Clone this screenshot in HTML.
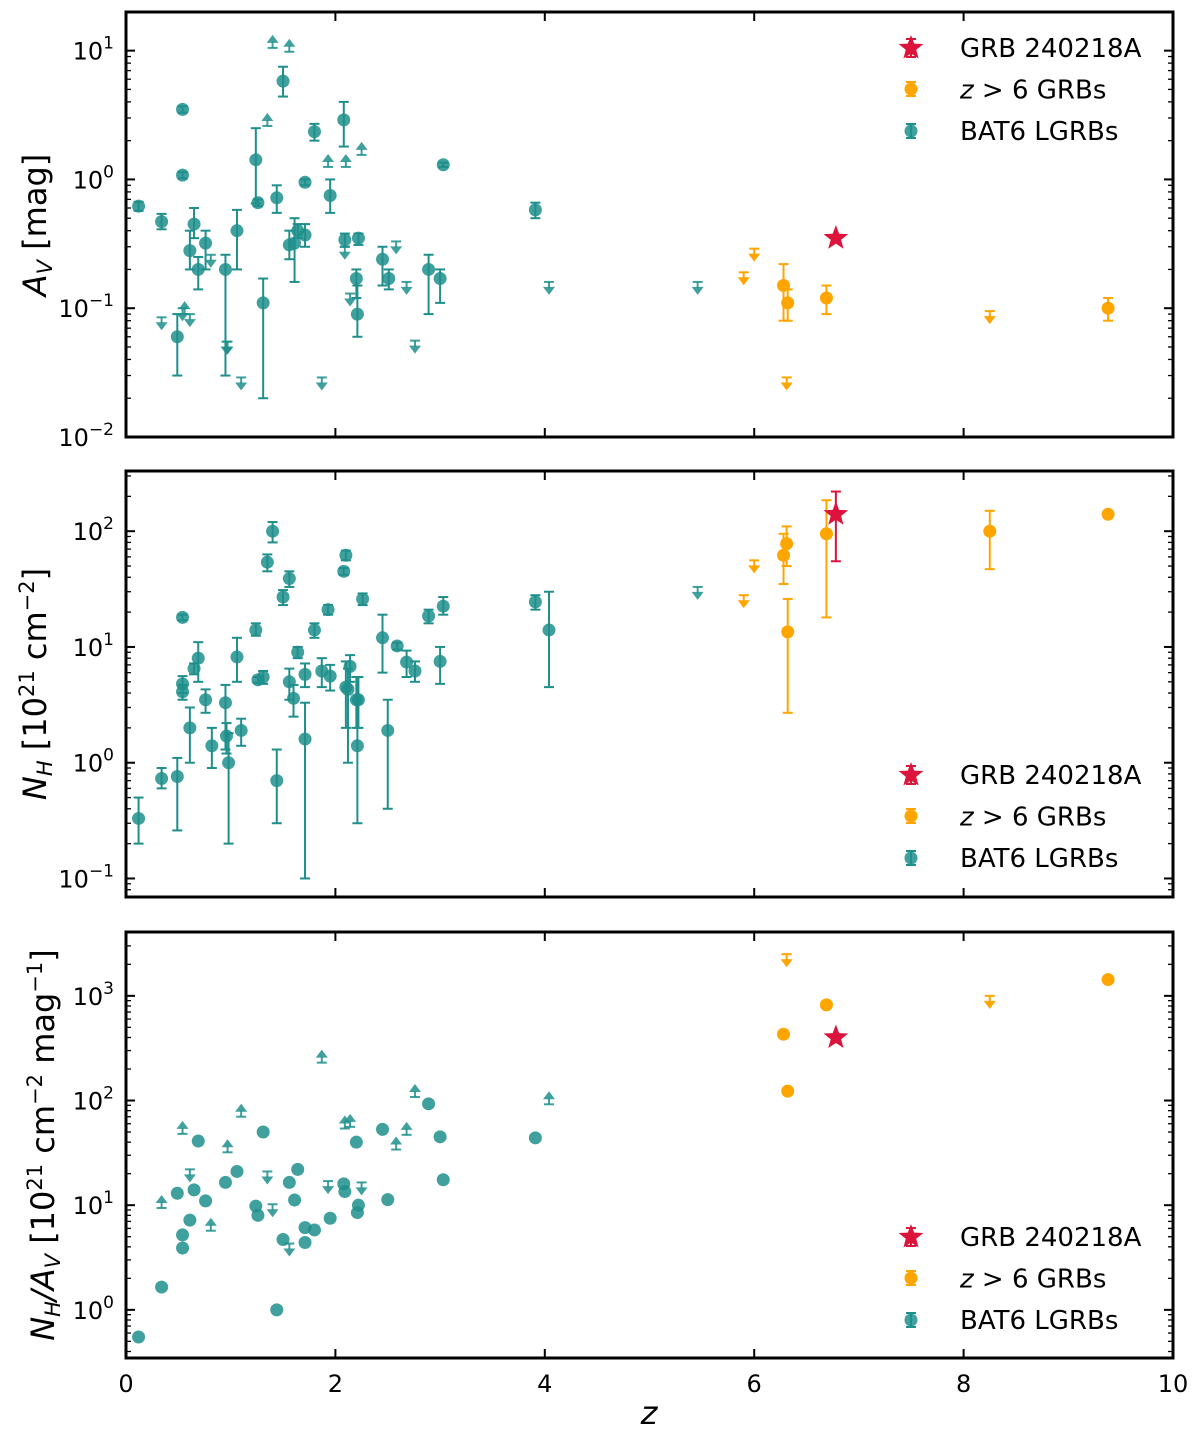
<!DOCTYPE html>
<html><head><meta charset="utf-8"><style>
body{margin:0;background:#fff}
svg{display:block;font-family:"DejaVu Sans","Liberation Sans",sans-serif}
</style></head><body>
<svg id="fig" width="1200" height="1441" viewBox="0 0 1200 1441"></svg>
<script>
// ---------- DATA ----------
// Panel 1: A_V
const av_bat_z=[0.12,0.34,0.49,0.54,0.54,0.61,0.65,0.69,0.76,0.95,1.06,1.24,1.26,1.31,1.44,1.50,1.56,1.61,1.64,1.71,1.71,1.80,1.95,2.08,2.09,2.20,2.21,2.22,2.45,2.51,2.89,3.00,3.03,3.91];
const av_bat_v=[0.62,0.47,0.06,3.5,1.08,0.28,0.45,0.2,0.32,0.2,0.4,1.42,0.66,0.11,0.72,5.8,0.31,0.32,0.4,0.37,0.95,2.35,0.75,2.9,0.34,0.17,0.09,0.35,0.24,0.17,0.2,0.17,1.3,0.58];
const av_bat_lo=[0.57,0.41,0.03,3.3,1.02,0.2,0.35,0.14,0.2,0.03,0.2,0.65,0.62,0.02,0.55,4.4,0.24,0.16,0.35,0.3,0.9,2.0,0.55,1.8,0.3,0.12,0.06,0.31,0.15,0.14,0.09,0.11,1.25,0.5];
const av_bat_hi=[0.67,0.54,0.09,3.7,1.14,0.4,0.6,0.25,0.4,0.26,0.58,2.5,0.7,0.17,0.9,7.5,0.4,0.5,0.45,0.45,1.0,2.7,1.0,4.0,0.38,0.2,0.15,0.38,0.3,0.2,0.26,0.2,1.35,0.66];
const av_bat_lowlim_z=[1.40,1.56,1.35,1.93,2.10,2.25,0.56];
const av_bat_lowlim_v=[10.5,9.8,2.6,1.25,1.25,1.55,0.09];
const av_bat_uplim_z=[0.34,0.54,0.61,0.81,0.97,1.10,1.87,2.09,2.14,2.58,2.68,2.76,4.04,5.46,0.96];
const av_bat_uplim_v=[0.085,0.1,0.09,0.26,0.055,0.029,0.029,0.3,0.13,0.33,0.16,0.056,0.16,0.16,0.055];
const av_hz_z=[6.28,6.32,6.69,9.38];
const av_hz_v=[0.15,0.11,0.12,0.1];
const av_hz_lo=[0.08,0.08,0.09,0.08];
const av_hz_hi=[0.22,0.14,0.15,0.12];
const av_hz_uplim_z=[5.90,6.00,6.31,8.25];
const av_hz_uplim_v=[0.19,0.29,0.029,0.095];
const av_star=[6.78,0.35];

// Panel 2: N_H
const nh_bat_z=[0.12,0.34,0.49,0.54,0.54,0.54,0.61,0.65,0.69,0.76,0.82,0.95,0.96,0.98,1.06,1.10,1.24,1.26,1.31,1.35,1.40,1.44,1.50,1.56,1.56,1.60,1.64,1.71,1.71,1.80,1.87,1.93,1.95,2.08,2.10,2.10,2.12,2.14,2.20,2.21,2.22,2.26,2.45,2.50,2.59,2.68,2.76,2.89,3.00,3.03,3.91,4.04];
const nh_bat_v=[0.33,0.73,0.76,4.8,4.1,18,2.0,6.5,8.0,3.5,1.4,3.3,1.7,1.0,8.2,1.9,14,5.2,5.5,54,100,0.7,27,39,5.0,3.6,9.0,5.8,1.6,14,6.2,21,5.6,45,62,4.5,4.3,6.8,3.5,1.4,3.5,26,12,1.9,10.2,7.4,6.2,18.5,7.5,22.5,24.5,14];
const nh_bat_lo=[0.2,0.6,0.26,4.0,3.5,17,1.0,5.8,5.0,2.7,0.9,1.3,1.2,0.2,5.0,1.4,12.5,4.9,4.8,45,80,0.3,23,33,3.5,2.5,8.0,4.5,0.1,12,4.5,19,4.2,42,56,2.0,1.0,5.0,2.0,0.3,2.0,23,6,0.4,9.5,5.5,5.0,16,4.8,19,21,4.5];
const nh_bat_hi=[0.5,0.9,1.1,5.6,4.7,19,3.0,7.2,11,4.3,2.0,4.7,2.2,1.8,12,2.4,16,5.5,6.2,63,120,1.3,31,45,6.5,4.7,10,7.2,3.3,16,8.0,23,7.0,48,68,7.5,6.5,8.5,5.5,5.5,5.5,29,19,3.5,10.9,9.3,7.5,21,10,27,28,30];
const nh_bat_uplim_z=[5.46];
const nh_bat_uplim_v=[33];
const nh_hz_z=[6.28,6.31,6.32,6.69,8.25,9.38];
const nh_hz_v=[62,78,13.5,95,100,140];
const nh_hz_lo=[35,50,2.7,18,47,135];
const nh_hz_hi=[95,110,26,185,150,145];
const nh_hz_uplim_z=[5.90,6.00];
const nh_hz_uplim_v=[28,56];
const nh_star=[6.78,140,55,220];

// Panel 3: N_H/A_V
const r_bat_z=[0.12,0.34,0.49,0.54,0.54,0.61,0.65,0.69,0.76,0.95,1.06,1.24,1.26,1.31,1.44,1.50,1.56,1.61,1.64,1.71,1.71,1.80,1.95,2.08,2.09,2.20,2.21,2.22,2.45,2.50,2.89,3.00,3.03,3.91];
const r_bat_v=[0.55,1.65,13,5.2,3.9,7.2,14,41,11,16.5,21,9.8,8.0,50,1.0,4.7,16.5,11.2,22,6.1,4.4,5.8,7.5,16,13.5,40,8.5,10,53,11.3,93,45,17.5,44];
const r_bat_lowlim_z=[0.34,0.54,0.81,0.97,1.10,1.87,2.09,2.14,2.58,2.68,2.76,4.04];
const r_bat_lowlim_v=[9.4,48,5.7,32,70,230,54,56,34,47,108,92];
const r_bat_uplim_z=[0.61,1.35,1.40,1.56,1.93,2.25];
const r_bat_uplim_v=[22,21,10.2,4.3,17,16.5];
const r_hz_z=[6.28,6.32,6.69,9.38];
const r_hz_v=[430,123,820,1430];
const r_hz_uplim_z=[6.31,8.25];
const r_hz_uplim_v=[2500,1000];
const r_star=[6.78,400];

// ---------- DRAW ----------
const svg=document.getElementById('fig');
const NS='http://www.w3.org/2000/svg';
const TEAL='#1f8f8c', ORANGE='#ffa500', RED='#dc143c';
function mk(tag,attrs,parent){const e=document.createElementNS(NS,tag);for(const k in attrs)e.setAttribute(k,attrs[k]);(parent||svg).appendChild(e);return e;}
const X0=126,X1=1173;
const xs=z=>X0+(z/10)*(X1-X0);
const panels=[
 {top:12,bot:437,lmin:-2,lmax:1.3,name:'av'},
 {top:471,bot:897,lmin:-1.16,lmax:2.52,name:'nh'},
 {top:932,bot:1358,lmin:-0.46,lmax:3.61,name:'ratio'}
];
function ysf(p){return v=>p.bot-(Math.log10(v)-p.lmin)/(p.lmax-p.lmin)*(p.bot-p.top);}

function point(g,x,y,color,r){const c=mk('circle',{cx:x,cy:y,r:r||6.5,fill:color,'fill-opacity':color===TEAL?0.85:1},g);

return c;}
function errbar(g,x,y1,y2,color){mk('line',{x1:x,y1:y1,x2:x,y2:y2,stroke:color,'stroke-width':2},g);
 mk('line',{x1:x-5,y1:y1,x2:x+5,y2:y1,stroke:color,'stroke-width':2},g);
 mk('line',{x1:x-5,y1:y2,x2:x+5,y2:y2,stroke:color,'stroke-width':2},g);}
function limit(g,x,y,color,dir){
 const e=mk('g',{},g);
 
 
 const op=color===TEAL?0.85:1;
 mk('line',{x1:x-5,y1:y,x2:x+5,y2:y,stroke:color,'stroke-width':2,'stroke-opacity':op},e);
 mk('line',{x1:x,y1:y,x2:x,y2:y+dir*6,stroke:color,'stroke-width':2,'stroke-opacity':op},e);
 mk('polygon',{points:`${x-6},${y+dir*5} ${x+6},${y+dir*5} ${x},${y+dir*13}`,fill:color,'fill-opacity':op},e);}
function star(g,cx,cy,R){let pts=[];for(let i=0;i<10;i++){const a=-Math.PI/2+i*Math.PI/5;const r=i%2?R*0.42:R;pts.push((cx+r*Math.cos(a)).toFixed(1)+','+(cy+r*Math.sin(a)).toFixed(1));}
 const s=mk('polygon',{points:pts.join(' '),fill:RED},g);
 
 return s;}

function axes(p,idx){
 const g=mk('g',{});
 
 
 const ys=ysf(p);
 for(let d=Math.floor(p.lmin);d<=Math.ceil(p.lmax);d++){
  for(let m=1;m<10;m++){const v=m*Math.pow(10,d);const lv=Math.log10(v);if(lv<p.lmin||lv>p.lmax)continue;
   const y=ys(v);const L=m===1?9:5;
   mk('line',{x1:X0,y1:y,x2:X0+L,y2:y,stroke:'#000','stroke-width':m===1?2:1.3},g);
   mk('line',{x1:X1,y1:y,x2:X1-L,y2:y,stroke:'#000','stroke-width':m===1?2:1.3},g);
   if(m===1){const t=mk('text',{x:X0-12,y:y+9,'font-size':24,'text-anchor':'end'},g);
    
    
    t.textContent='10';const s=mk('tspan',{dy:-11,'font-size':17},t);s.textContent=String(d).replace('-','\u2212');}
  }}
 for(let z=0;z<=10;z+=2){const x=xs(z);
  mk('line',{x1:x,y1:p.bot,x2:x,y2:p.bot-9,stroke:'#000','stroke-width':2},g);
  mk('line',{x1:x,y1:p.top,x2:x,y2:p.top+9,stroke:'#000','stroke-width':2},g);
  if(idx===2){const t=mk('text',{x:x,y:p.bot+34,'font-size':24,'text-anchor':'middle'},g);
   
   
   t.textContent=z;}}
 mk('rect',{x:X0,y:p.top,width:X1-X0,height:p.bot-p.top,fill:'none',stroke:'#000','stroke-width':3},g);
 return ys;
}
function legend(p){
 const g=mk('g',{});
 
 
 const base=p.name==='av'?48:(p.name==='nh'?775:1237);
 errbar(g,911,base-9,base+9,RED); star(g,911,base,13);
 errbar(g,911,base+34,base+48,ORANGE); point(g,911,base+41,ORANGE);
 errbar(g,911,base+76,base+90,TEAL); point(g,911,base+83,TEAL);
 const labels=['GRB 240218A',null,'BAT6 LGRBs'];
 [0,1,2].forEach(i=>{const t=mk('text',{x:960,y:base+9+i*41.5,'font-size':26},g);
  
  
  if(i===1){const a=mk('tspan',{'font-style':'italic'},t);a.textContent='z';const b=mk('tspan',{},t);b.textContent=' > 6 GRBs';}
  else t.textContent=labels[i];});
}
{const p=panels[0];const ys=axes(p,0);const g=mk('g',{});
 av_bat_z.forEach((z,i)=>{errbar(g,xs(z),ys(av_bat_lo[i]),ys(av_bat_hi[i]),TEAL);point(g,xs(z),ys(av_bat_v[i]),TEAL);});
 av_bat_lowlim_z.forEach((z,i)=>limit(g,xs(z),ys(av_bat_lowlim_v[i]),TEAL,-1));
 av_bat_uplim_z.forEach((z,i)=>limit(g,xs(z),ys(av_bat_uplim_v[i]),TEAL,1));
 av_hz_z.forEach((z,i)=>{errbar(g,xs(z),ys(av_hz_lo[i]),ys(av_hz_hi[i]),ORANGE);point(g,xs(z),ys(av_hz_v[i]),ORANGE);});
 av_hz_uplim_z.forEach((z,i)=>limit(g,xs(z),ys(av_hz_uplim_v[i]),ORANGE,1));
 star(g,xs(av_star[0]),ys(av_star[1]),13);legend(p);}
{const p=panels[1];const ys=axes(p,1);const g=mk('g',{});
 nh_bat_z.forEach((z,i)=>{errbar(g,xs(z),ys(nh_bat_lo[i]),ys(nh_bat_hi[i]),TEAL);point(g,xs(z),ys(nh_bat_v[i]),TEAL);});
 nh_bat_uplim_z.forEach((z,i)=>limit(g,xs(z),ys(nh_bat_uplim_v[i]),TEAL,1));
 nh_hz_z.forEach((z,i)=>{errbar(g,xs(z),ys(nh_hz_lo[i]),ys(nh_hz_hi[i]),ORANGE);point(g,xs(z),ys(nh_hz_v[i]),ORANGE);});
 nh_hz_uplim_z.forEach((z,i)=>limit(g,xs(z),ys(nh_hz_uplim_v[i]),ORANGE,1));
 errbar(g,xs(nh_star[0]),ys(nh_star[2]),ys(nh_star[3]),RED);
 star(g,xs(nh_star[0]),ys(nh_star[1]),13);legend(p);}
{const p=panels[2];const ys=axes(p,2);const g=mk('g',{});
 r_bat_z.forEach((z,i)=>point(g,xs(z),ys(r_bat_v[i]),TEAL));
 r_bat_lowlim_z.forEach((z,i)=>limit(g,xs(z),ys(r_bat_lowlim_v[i]),TEAL,-1));
 r_bat_uplim_z.forEach((z,i)=>limit(g,xs(z),ys(r_bat_uplim_v[i]),TEAL,1));
 r_hz_z.forEach((z,i)=>point(g,xs(z),ys(r_hz_v[i]),ORANGE));
 r_hz_uplim_z.forEach((z,i)=>limit(g,xs(z),ys(r_hz_uplim_v[i]),ORANGE,1));
 star(g,xs(r_star[0]),ys(r_star[1]),13);legend(p);}
</script>
<div style="position:absolute;left:0;top:0;width:1200px;height:1441px;pointer-events:none">
<svg width="1200" height="1441" style="font-family:'DejaVu Sans','Liberation Sans',sans-serif">
<text transform="translate(46,225) rotate(-90)" font-size="32" text-anchor="middle"><tspan font-style="italic">A</tspan><tspan font-style="italic" font-size="21" dy="6">V</tspan><tspan dy="-6"> [mag]</tspan></text>
<text transform="translate(46,684) rotate(-90)" font-size="32" text-anchor="middle"><tspan font-style="italic">N</tspan><tspan font-style="italic" font-size="21" dy="6">H</tspan><tspan dy="-6"> [10</tspan><tspan font-size="21" dy="-12">21</tspan><tspan dy="12"> cm</tspan><tspan font-size="21" dy="-12">−2</tspan><tspan dy="12">]</tspan></text>
<text transform="translate(54,1145) rotate(-90)" font-size="32" text-anchor="middle"><tspan font-style="italic">N</tspan><tspan font-style="italic" font-size="21" dy="6">H</tspan><tspan dy="-6" font-style="italic">/A</tspan><tspan font-style="italic" font-size="21" dy="6">V</tspan><tspan dy="-6"> [10</tspan><tspan font-size="21" dy="-12">21</tspan><tspan dy="12"> cm</tspan><tspan font-size="21" dy="-12">−2</tspan><tspan dy="12"> mag</tspan><tspan font-size="21" dy="-12">−1</tspan><tspan dy="12">]</tspan></text>
<text x="649" y="1424" font-size="32" font-style="italic" text-anchor="middle">z</text>
</svg></div>
</body></html>
